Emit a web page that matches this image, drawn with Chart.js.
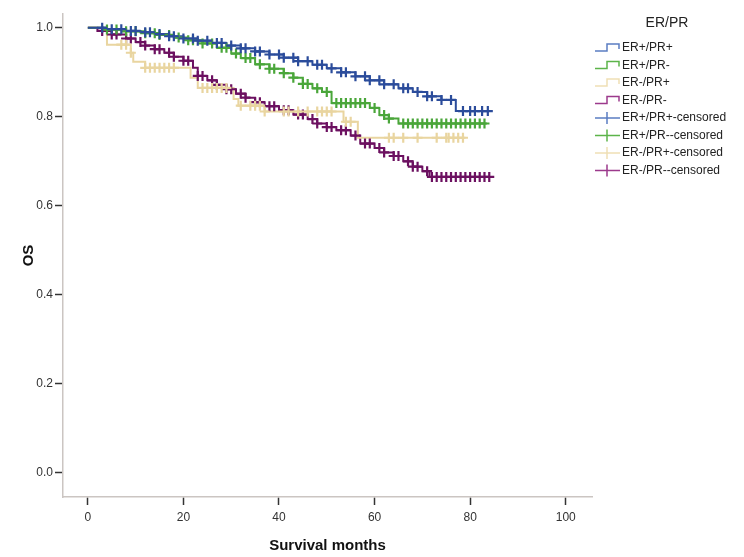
<!DOCTYPE html>
<html>
<head>
<meta charset="utf-8">
<script src="https://cdn.jsdelivr.net/npm/chart.js@4.4.0/dist/chart.umd.min.js"></script>
<style>
  html, body { margin: 0; padding: 0; background: #fff; }
  #wrap { width: 744px; height: 557px; }
</style>
</head>
<body>
<div id="wrap"><canvas id="km" width="744" height="557"></canvas></div>
<script>
// Kaplan-Meier steps: time (months) where the curve drops, and survival after the drop
const ppTimes = [0, 4, 8, 11, 14, 17, 20, 23, 26, 29, 32, 35, 38, 41, 44, 47, 50, 53, 56, 59, 62, 65, 68, 71, 74, 77, 84];
const ppSurv  = [1.0, 0.997, 0.993, 0.99, 0.986, 0.981, 0.976, 0.971, 0.966, 0.96, 0.954, 0.947, 0.94, 0.933, 0.925, 0.917, 0.909, 0.9, 0.891, 0.882, 0.873, 0.864, 0.856, 0.846, 0.838, 0.813, 0.813];

const pnTimes = [0, 4, 8, 12, 15, 18, 21, 24, 27, 30, 32, 35, 38, 41, 43, 45, 47, 49, 51, 59, 61, 63, 65, 83.5];
const pnSurv  = [1.0, 0.996, 0.992, 0.988, 0.984, 0.978, 0.972, 0.965, 0.955, 0.942, 0.932, 0.918, 0.908, 0.898, 0.888, 0.874, 0.864, 0.856, 0.831, 0.82, 0.804, 0.796, 0.785, 0.785];

const npTimes = [0, 4, 9, 9.5, 12, 21.5, 23, 30.5, 31.5, 37, 53.5, 56.5, 79];
const npSurv  = [1.0, 0.962, 0.944, 0.924, 0.91, 0.888, 0.865, 0.84, 0.825, 0.812, 0.789, 0.753, 0.753];

const nnTimes = [0, 2, 5, 8, 10, 12, 14, 16, 18, 20, 22, 23, 25, 27, 29, 31, 33, 35, 37, 40, 43, 46, 48, 50, 52, 55, 57, 60, 62, 64, 66, 68, 70, 71.5, 84];
const nnSurv  = [1.0, 0.993, 0.985, 0.976, 0.968, 0.96, 0.952, 0.944, 0.935, 0.926, 0.91, 0.892, 0.882, 0.872, 0.862, 0.852, 0.843, 0.833, 0.824, 0.815, 0.805, 0.795, 0.785, 0.777, 0.77, 0.758, 0.74, 0.73, 0.72, 0.712, 0.7, 0.688, 0.678, 0.665, 0.665];

// censoring times (months)
const ppCens = [3, 5, 7, 9, 10, 12, 13, 15, 17, 18, 20, 22, 23, 25, 27, 28, 30, 32, 33, 35, 36, 38, 40, 41, 43, 44, 46, 48, 49, 51, 53, 54, 56, 58, 59, 61, 62, 64, 66, 67, 69, 71, 72, 74, 76, 78.5, 80, 81, 82.5, 83.7];
const pnCens = [4, 6, 8, 10, 12, 14, 15, 17, 19, 21, 22, 24, 26, 28, 29, 31, 33, 34, 36, 38, 39, 41, 43, 45, 46, 48, 50, 52, 53, 54, 55, 56, 57, 58, 60, 62, 63, 66, 67, 68, 69, 70, 71, 72, 73, 74, 75, 76, 77, 78, 79, 80, 81, 82, 83];
const npCens = [7, 8, 9, 12, 13, 14, 15, 16, 17, 18, 24, 25, 26, 27, 28, 29, 32, 34, 35, 36, 37, 41, 42, 44, 46, 48, 49, 50, 51, 54, 55, 63, 64, 66, 69, 73, 75, 75.5, 76.5, 77.5, 78.5];
const nnCens = [3, 5, 6, 8, 9, 11, 12, 14, 15, 17, 18, 20, 21, 23, 24, 26, 27, 29, 30, 32, 33, 35, 36, 38, 39, 41, 42, 44, 45, 47, 48, 50, 51, 53, 54, 56, 58, 59, 61, 62, 64, 65, 67, 68, 69, 71, 72, 73, 74, 75, 76, 77, 78, 79, 80, 81, 82, 83, 84];

const groupNames = ["ER+/PR+", "ER+/PR-", "ER-/PR+", "ER-/PR-"];
const legendTitle = "ER/PR";
const xTicks = [0, 20, 40, 60, 80, 100];
const yTicks = [0.0, 0.2, 0.4, 0.6, 0.8, 1.0];

const lineColors = ["#2b4c9b", "#4aa63a", "#e9d5a0", "#6c1060"];
const legendColors = ["#5b7dc2", "#5cb44a", "#efdfb5", "#9c3a8c"];

function survAt(times, surv, t) {
  let s = surv[0];
  for (let i = 0; i < times.length; i++) {
    if (times[i] <= t) s = surv[i];
  }
  return s;
}

const groups = [
  { t: ppTimes, s: ppSurv, c: ppCens },
  { t: pnTimes, s: pnSurv, c: pnCens },
  { t: npTimes, s: npSurv, c: npCens },
  { t: nnTimes, s: nnSurv, c: nnCens }
];

const datasets = [];
groups.forEach((g, i) => {
  datasets.push({
    label: groupNames[i],
    data: g.t.map((t, j) => ({ x: t, y: g.s[j] })),
    showLine: true,
    stepped: "before",
    borderColor: lineColors[i],
    borderWidth: 2,
    pointRadius: 0,
    fill: false,
    order: 2
  });
});
groups.forEach((g, i) => {
  datasets.push({
    label: groupNames[i] + "-censored",
    data: g.c.map(t => ({ x: t, y: survAt(g.t, g.s, t) })),
    showLine: false,
    pointStyle: "cross",
    pointRadius: 5,
    pointBorderWidth: 2.2,
    borderColor: lineColors[i],
    backgroundColor: lineColors[i],
    order: 1
  });
});

// legend drawn to the right, like the SPSS output
const kmLegend = {
  id: "kmLegend",
  afterDraw(chart) {
    const ctx = chart.ctx;
    ctx.save();
    ctx.fillStyle = "#222";
    ctx.font = '14px "Liberation Sans", Arial, sans-serif';
    ctx.textAlign = "center";
    ctx.textBaseline = "middle";
    ctx.fillText(legendTitle, 667, 23);
    ctx.font = '12px "Liberation Sans", Arial, sans-serif';
    ctx.textAlign = "left";
    const labels = groupNames.concat(groupNames.map(n => n + "-censored"));
    labels.forEach((lab, i) => {
      const y = 48 + i * 17.5;
      ctx.strokeStyle = legendColors[i % 4];
      ctx.lineWidth = 1.5;
      ctx.beginPath();
      if (i < 4) {
        ctx.moveTo(595, y + 3);
        ctx.lineTo(607, y + 3);
        ctx.lineTo(607, y - 4);
        ctx.lineTo(619, y - 4);
        ctx.lineTo(619, y + 1);
      } else {
        ctx.moveTo(595, y);
        ctx.lineTo(620, y);
        ctx.moveTo(607, y - 6);
        ctx.lineTo(607, y + 6);
      }
      ctx.stroke();
      ctx.fillStyle = "#222";
      ctx.fillText(lab, 622, y);
    });
    ctx.restore();
  }
};

new Chart(document.getElementById("km"), {
  type: "scatter",
  data: { datasets: datasets },
  plugins: [kmLegend],
  options: {
    responsive: false,
    animation: false,
    layout: { padding: { left: 0, right: 152, top: 14, bottom: 0 } },
    plugins: { legend: { display: false }, tooltip: { enabled: false } },
    scales: {
      x: {
        type: "linear",
        min: -5.2,
        max: 105.5,
        afterBuildTicks: s => { s.ticks = xTicks.map(v => ({ value: v })); },
        afterFit: s => { s.height = 60; },
        border: { color: "#cbc5c2", width: 1.5 },
        grid: { drawOnChartArea: false, tickLength: 8, tickColor: "#333", tickWidth: 1.5 },
        ticks: { color: "#333", font: { family: '"Liberation Sans", Arial', size: 12 }, padding: 5 },
        title: {
          display: true,
          text: "Survival months",
          color: "#111",
          font: { family: '"Liberation Sans", Arial', size: 15, weight: "bold" },
          padding: { top: 4, bottom: 2 }
        }
      },
      y: {
        min: -0.054,
        max: 1.031,
        afterBuildTicks: s => { s.ticks = yTicks.map(v => ({ value: v })); },
        afterFit: s => { s.width = 63; },
        border: { color: "#cbc5c2", width: 1.5 },
        grid: { drawOnChartArea: false, tickLength: 8, tickColor: "#333", tickWidth: 1.5 },
        ticks: {
          color: "#333",
          font: { family: '"Liberation Sans", Arial', size: 12 },
          padding: 2,
          callback: v => v.toFixed(1)
        },
        title: {
          display: true,
          text: "OS",
          color: "#111",
          font: { family: '"Liberation Sans", Arial', size: 15, weight: "bold" },
          padding: { top: 20, bottom: 0 }
        }
      }
    }
  }
});
</script>
</body>
</html>
